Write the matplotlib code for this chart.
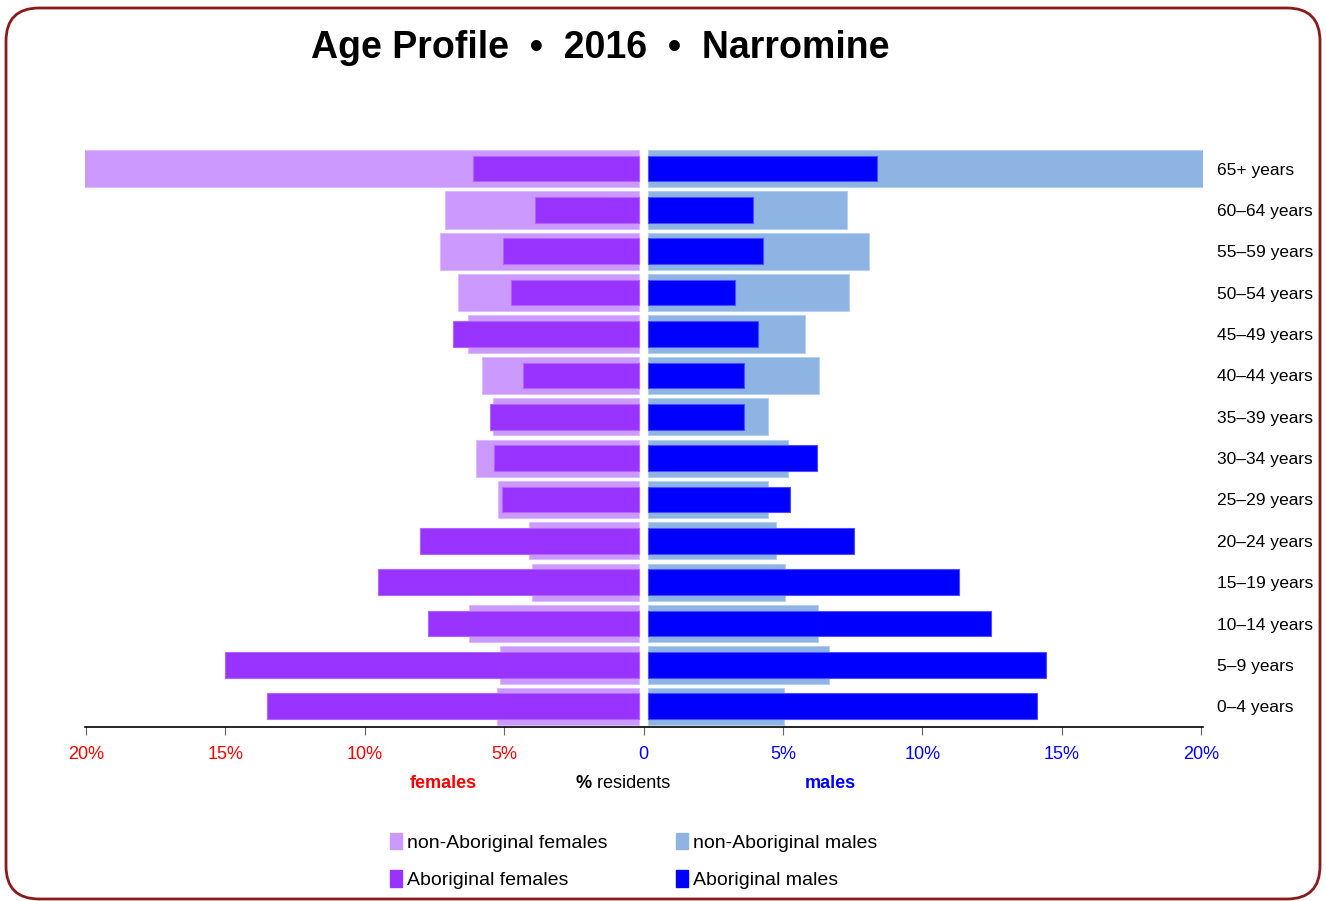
import matplotlib.pyplot as plt
import numpy as np
from matplotlib.patches import FancyBboxPatch, Patch

plt.rcParams['font.family'] = ['Liberation Sans', 'DejaVu Sans']

# age groups, top to bottom
AGES = ["65+ years", "60–64 years", "55–59 years", "50–54 years", "45–49 years",
        "40–44 years", "35–39 years", "30–34 years", "25–29 years", "20–24 years",
        "15–19 years", "10–14 years", "5–9 years", "0–4 years"]

# % residents (65+ non-Aboriginal runs off the 20% scale)
nonab_f = [27.7, 6.95, 7.13, 6.50, 6.14, 5.62, 5.22, 5.84, 5.04, 3.93, 3.84, 6.10, 4.99, 5.08]
ab_f = [5.93, 3.71, 4.88, 4.59, 6.68, 4.16, 5.35, 5.18, 4.89, 7.86, 9.34, 7.57, 14.83, 13.35]
nonab_m = [25.4, 7.14, 7.91, 7.21, 5.64, 6.12, 4.31, 5.00, 4.31, 4.60, 4.91, 6.08, 6.48, 4.86]
ab_m = [8.20, 3.76, 4.11, 3.10, 3.93, 3.43, 3.43, 6.07, 5.07, 7.37, 11.15, 12.29, 14.26, 13.93]

TICKS = [-20, -15, -10, -5, 0, 5, 10, 15, 20]

C = {"nonab_f": "#CC99FF", "ab_f": "#9933FF", "nonab_m": "#8DB4E2", "ab_m": "#0000FF"}
RED, BLUE = "#FF0000", "#0000FF"
GAP = 0.17

fig = plt.figure(figsize=(13.26, 9.01), dpi=100)
ax = fig.add_axes([84.9 / 1326, 1 - 727 / 901, (1203 - 84.9) / 1326, (727 - 147.9) / 901])

y = np.arange(len(AGES))[::-1]
ax.barh(y, -np.array(nonab_f), left=-GAP, height=0.9, color=C["nonab_f"],
        edgecolor="#DDBBFF", linewidth=0.8)
ax.barh(y, -np.array(ab_f), left=-GAP, height=0.62, color=C["ab_f"],
        edgecolor="#B266FF", linewidth=0.8)
ax.barh(y, nonab_m, left=GAP, height=0.9, color=C["nonab_m"],
        edgecolor="#B5CFEE", linewidth=0.8)
ax.barh(y, ab_m, left=GAP, height=0.62, color=C["ab_m"],
        edgecolor="#4D4DFF", linewidth=0.8)

ax.set_xlim(-20.04, 20.07)
ax.set_ylim(-0.5, 13.5)
for s in ["top", "left", "right"]:
    ax.spines[s].set_visible(False)
ax.spines["bottom"].set_linewidth(1.2)

ax.set_xticks(TICKS)
ax.set_xticklabels([f"{abs(t)}%" if t else "0" for t in TICKS], fontsize=13)
for t, lab in zip(TICKS, ax.get_xticklabels()):
    lab.set_color(RED if t < 0 else BLUE)
ax.tick_params(axis="x", length=6, width=0.8, color="#666666", pad=8)

ax.yaxis.tick_right()
ax.set_yticks(y)
ax.set_yticklabels(AGES, fontsize=12.5)
ax.tick_params(axis="y", length=0, pad=10)

fig.text(443 / 1326, 1 - 783 / 901, "females", color=RED, fontsize=13,
         fontweight="bold", ha="center", va="center")
fig.text(592 / 1326, 1 - 783 / 901, "%", fontsize=13, fontweight="bold",
         ha="right", va="center")
fig.text(592 / 1326, 1 - 783 / 901, " residents", fontsize=13, ha="left", va="center")
fig.text(830 / 1326, 1 - 783 / 901, "males", color=BLUE, fontsize=13,
         fontweight="bold", ha="center", va="center")

fig.text(600 / 1326, 1 - 48 / 901, "Age Profile  •  2016  •  Narromine",
         fontsize=27, fontweight="bold", ha="center", va="center")

handles = [Patch(color=C["nonab_f"]), Patch(color=C["ab_f"]),
           Patch(color=C["nonab_m"]), Patch(color=C["ab_m"])]
labels = ["non-Aboriginal females", "Aboriginal females",
          "non-Aboriginal males", "Aboriginal males"]
fig.legend(handles, labels, ncol=2, loc="upper left", frameon=False,
           bbox_to_anchor=(380 / 1326, 1 - 823 / 901), fontsize=14,
           handlelength=0.65, handleheight=0.95, handletextpad=0.25,
           columnspacing=3.5, labelspacing=0.95, borderpad=0)

border = FancyBboxPatch((6 / 1326, 1 - 899 / 901), 1314 / 1326, 891 / 901,
                        boxstyle="round,pad=0,rounding_size=0.025",
                        transform=fig.transFigure, fill=False,
                        edgecolor="#8B1A1A", linewidth=2, mutation_aspect=1326 / 901)
fig.patches.append(border)

fig.savefig("out.png", dpi=100)
